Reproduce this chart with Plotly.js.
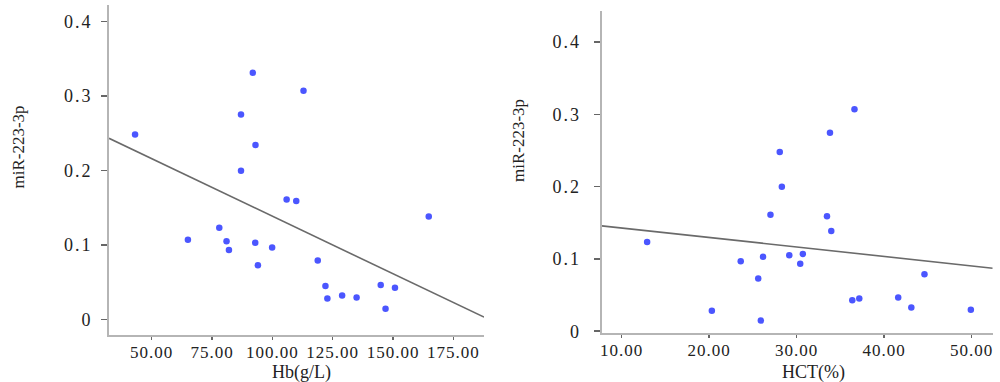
<!DOCTYPE html>
<html>
<head>
<meta charset="utf-8">
<script src="https://cdn.plot.ly/plotly-3.0.1.min.js"></script>
<style>
html,body{margin:0;padding:0;background:#fff;}
#chart{width:1000px;height:382px;}
#chart .xtick text, #chart .x2tick text { letter-spacing: 1px; }
#chart .ytick text, #chart .y2tick text { letter-spacing: 2px; }
</style>
</head>
<body>
<div id="chart"></div>
<script>
// Left panel: Hb (g/L) vs miR-223-3p
const hbX = [43.1, 91.9, 112.9, 87.0, 93.0, 87.0, 105.9, 109.9, 164.8, 78.0, 65.0, 81.0, 82.0, 92.9, 99.9, 94.0, 118.8, 122.0, 122.8, 128.9, 134.9, 144.9, 146.9, 150.8];
const hbY = [0.248, 0.331, 0.307, 0.275, 0.234, 0.1995, 0.161, 0.159, 0.138, 0.123, 0.107, 0.1047, 0.093, 0.103, 0.0966, 0.0725, 0.079, 0.0447, 0.028, 0.032, 0.0295, 0.046, 0.0143, 0.0425];
const hbFitX = [32.3, 187.7];
const hbFitY = [0.243, 0.003];

// Right panel: HCT (%) vs miR-223-3p
const hctX = [36.6, 33.8, 28.06, 28.3, 27.0, 33.46, 33.95, 12.9, 23.6, 26.15, 29.15, 30.7, 30.4, 25.6, 44.6, 36.35, 37.15, 41.6, 43.1, 49.9, 20.3, 25.9];
const hctY = [0.307, 0.2747, 0.248, 0.2, 0.161, 0.159, 0.1385, 0.1234, 0.0968, 0.103, 0.105, 0.107, 0.0935, 0.073, 0.079, 0.0427, 0.0454, 0.0468, 0.033, 0.0298, 0.0285, 0.0147];
const hctFitX = [7.71, 52.4];
const hctFitY = [0.1458, 0.0872];

const hbTicks = [50, 75, 100, 125, 150, 175];
const hctTicks = [10, 20, 30, 40, 50];
const yTicks = [0, 0.1, 0.2, 0.3, 0.4];

const yTitle = 'miR-223-3p';
const hbTitle = 'Hb(g/L)';
const hctTitle = 'HCT(%)';

const FONT = 'Liberation Serif, DejaVu Serif, serif';
const dotColor = '#4b56ff';
const fitColor = '#6a6a6a';

const traces = [
  {x: hbFitX, y: hbFitY, xaxis: 'x', yaxis: 'y', mode: 'lines', line: {color: fitColor, width: 1.6}, hoverinfo: 'skip'},
  {x: hbX, y: hbY, xaxis: 'x', yaxis: 'y', mode: 'markers', marker: {color: dotColor, size: 6.5}},
  {x: hctFitX, y: hctFitY, xaxis: 'x2', yaxis: 'y2', mode: 'lines', line: {color: fitColor, width: 1.6}, hoverinfo: 'skip'},
  {x: hctX, y: hctY, xaxis: 'x2', yaxis: 'y2', mode: 'markers', marker: {color: dotColor, size: 6.5}}
];

function xAxis(domain, range, ticks, anchor) {
  return {
    domain: domain, range: range, anchor: anchor,
    tickvals: ticks, ticktext: ticks.map(v => v.toFixed(2)),
    showgrid: false, zeroline: false,
    showline: true, linecolor: '#b5b5b5', linewidth: 2,
    ticks: 'outside', ticklen: 3, tickcolor: '#666', tickwidth: 1.5,
    tickfont: {family: FONT, size: 17, color: '#222'},
    ticklabelstandoff: -2
  };
}
function yAxis(domain, range, anchor, standoff) {
  return {
    domain: domain, range: range, anchor: anchor,
    tickvals: yTicks, ticktext: yTicks.map(v => v === 0 ? '0' : v.toFixed(1)),
    showgrid: false, zeroline: false,
    showline: true, linecolor: '#b5b5b5', linewidth: 2,
    ticks: 'outside', ticklen: 6, tickcolor: '#666', tickwidth: 1.5,
    tickfont: {family: FONT, size: 18, color: '#222'},
    ticklabelstandoff: standoff
  };
}

const layout = {
  width: 1000, height: 382,
  margin: {l: 0, r: 0, t: 0, b: 0},
  paper_bgcolor: '#fff', plot_bgcolor: '#fff',
  showlegend: false,
  xaxis: xAxis([0.109, 0.484], [32.3, 187.7], hbTicks, 'y'),
  yaxis: yAxis([0.123, 0.987], [-0.021, 0.422], 'x', 5),
  xaxis2: xAxis([0.6017, 0.9927], [7.71, 52.4], hctTicks, 'y2'),
  yaxis2: yAxis([0.1291, 0.9712], [-0.002, 0.443], 'x2', 9),
  annotations: [
    {text: yTitle, xref: 'paper', yref: 'paper', x: 17.5/1000, y: 1 - 147/382, textangle: -90, showarrow: false, xanchor: 'center', yanchor: 'middle', font: {family: FONT, size: 17, color: '#222'}},
    {text: yTitle, xref: 'paper', yref: 'paper', x: 519/1000, y: 1 - 141/382, textangle: -90, showarrow: false, xanchor: 'center', yanchor: 'middle', font: {family: FONT, size: 17, color: '#222'}},
    {text: hbTitle, xref: 'paper', yref: 'paper', x: 301/1000, y: 1 - 372/382, showarrow: false, xanchor: 'center', yanchor: 'middle', font: {family: FONT, size: 18, color: '#222'}},
    {text: hctTitle, xref: 'paper', yref: 'paper', x: 813/1000, y: 1 - 372/382, showarrow: false, xanchor: 'center', yanchor: 'middle', font: {family: FONT, size: 18, color: '#222'}}
  ]
};

Plotly.newPlot('chart', traces, layout, {staticPlot: true, displayModeBar: false});
</script>
</body>
</html>
